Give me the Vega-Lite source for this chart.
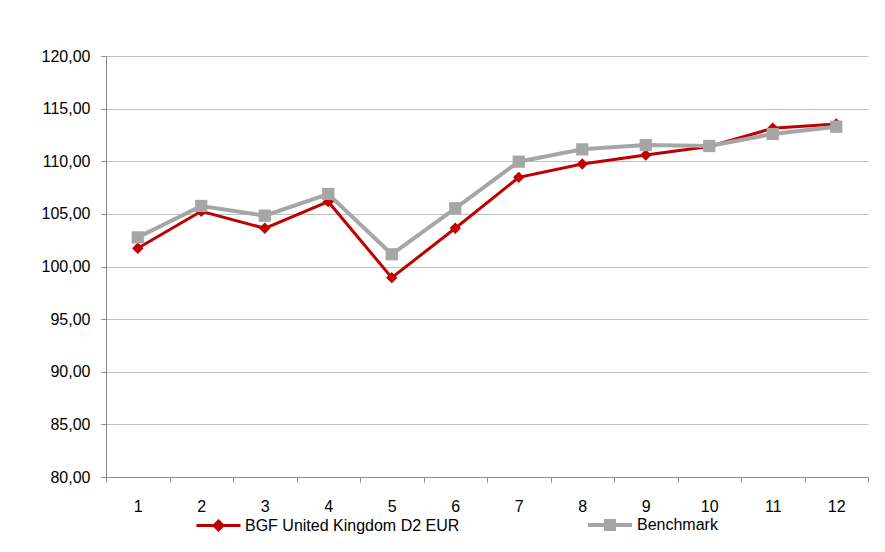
{
  "$schema": "https://vega.github.io/schema/vega-lite/v6.json",
  "autosize": "none",
  "width": 762,
  "height": 421,
  "padding": {"left": 106, "top": 56, "right": 17, "bottom": 75},
  "background": "white",
  "config": {
    "view": {"stroke": null},
    "font": "Liberation Sans",
    "axis": {"labelFont": "Liberation Sans", "labelFontSize": 16, "labelColor": "#000000"},
    "legend": {"labelFont": "Liberation Sans", "labelFontSize": 16, "labelColor": "#000000"}
  },
  "data": {
    "values": [
      {"month": 1, "series": "BGF United Kingdom D2 EUR", "value": 101.73},
      {"month": 2, "series": "BGF United Kingdom D2 EUR", "value": 105.25},
      {"month": 3, "series": "BGF United Kingdom D2 EUR", "value": 103.63},
      {"month": 4, "series": "BGF United Kingdom D2 EUR", "value": 106.16},
      {"month": 5, "series": "BGF United Kingdom D2 EUR", "value": 98.94},
      {"month": 6, "series": "BGF United Kingdom D2 EUR", "value": 103.63},
      {"month": 7, "series": "BGF United Kingdom D2 EUR", "value": 108.47},
      {"month": 8, "series": "BGF United Kingdom D2 EUR", "value": 109.74},
      {"month": 9, "series": "BGF United Kingdom D2 EUR", "value": 110.59},
      {"month": 10, "series": "BGF United Kingdom D2 EUR", "value": 111.40},
      {"month": 11, "series": "BGF United Kingdom D2 EUR", "value": 113.13},
      {"month": 12, "series": "BGF United Kingdom D2 EUR", "value": 113.54},
      {"month": 1, "series": "Benchmark", "value": 102.77},
      {"month": 2, "series": "Benchmark", "value": 105.75},
      {"month": 3, "series": "Benchmark", "value": 104.83},
      {"month": 4, "series": "Benchmark", "value": 106.89},
      {"month": 5, "series": "Benchmark", "value": 101.16},
      {"month": 6, "series": "Benchmark", "value": 105.53},
      {"month": 7, "series": "Benchmark", "value": 109.96},
      {"month": 8, "series": "Benchmark", "value": 111.13},
      {"month": 9, "series": "Benchmark", "value": 111.54},
      {"month": 10, "series": "Benchmark", "value": 111.45},
      {"month": 11, "series": "Benchmark", "value": 112.59},
      {"month": 12, "series": "Benchmark", "value": 113.28}
    ]
  },
  "encoding": {
    "x": {
      "field": "month",
      "type": "ordinal",
      "scale": {"type": "band", "paddingInner": 0, "paddingOuter": 0},
      "axis": {
        "title": null,
        "labelAngle": 0,
        "tickBand": "extent",
        "ticks": true,
        "tickSize": 5,
        "tickColor": "#8c8c8c",
        "domainColor": "#8c8c8c",
        "domainWidth": 1,
        "labelPadding": 16,
        "grid": false
      }
    },
    "y": {
      "field": "value",
      "type": "quantitative",
      "scale": {"domain": [80, 120], "nice": false, "zero": false},
      "axis": {
        "title": null,
        "values": [80, 85, 90, 95, 100, 105, 110, 115, 120],
        "labelExpr": "replace(format(datum.value, '.2f'), '.', ',')",
        "grid": true,
        "gridColor": "#c0c0c0",
        "gridWidth": 1,
        "tickSize": 5,
        "tickColor": "#8c8c8c",
        "domainColor": "#8c8c8c",
        "labelPadding": 11
      }
    },
    "color": {
      "field": "series",
      "type": "nominal",
      "scale": {"domain": ["BGF United Kingdom D2 EUR", "Benchmark"], "range": ["#c00000", "#a6a6a6"]},
      "legend": {
        "title": null,
        "orient": "none",
        "direction": "horizontal",
        "legendX": 101,
        "legendY": 457,
        "padding": 0,
        "symbolSize": 400,
        "symbolStrokeWidth": 3,
        "labelOffset": 15,
        "labelLimit": 400,
        "columnPadding": 120,
        "encode": {
          "symbols": {
            "update": {
              "shape": {"signal": "datum.value == 'Benchmark' ? 'M-2.2,0H2.2M-0.4,-0.4H0.4V0.4H-0.4Z' : 'M-2.2,0H2.2M0,-0.45L0.45,0L0,0.45L-0.45,0Z'"},
              "fill": {"scale": "color", "field": "value"},
              "stroke": {"scale": "color", "field": "value"},
              "strokeWidth": {"value": 3},
              "opacity": {"value": 1}
            }
          }
        }
      }
    }
  },
  "layer": [
    {
      "mark": {"type": "line"},
      "encoding": {
        "strokeWidth": {
          "field": "series",
          "type": "nominal",
          "legend": null,
          "scale": {"domain": ["BGF United Kingdom D2 EUR", "Benchmark"], "range": [3, 4]}
        }
      }
    },
    {
      "transform": [{"filter": "datum.series == 'BGF United Kingdom D2 EUR'"}],
      "mark": {"type": "point", "filled": true, "opacity": 1, "shape": "diamond", "size": 130}
    },
    {
      "transform": [{"filter": "datum.series == 'Benchmark'"}],
      "mark": {"type": "point", "filled": true, "opacity": 1, "shape": "square", "size": 150}
    }
  ]
}
